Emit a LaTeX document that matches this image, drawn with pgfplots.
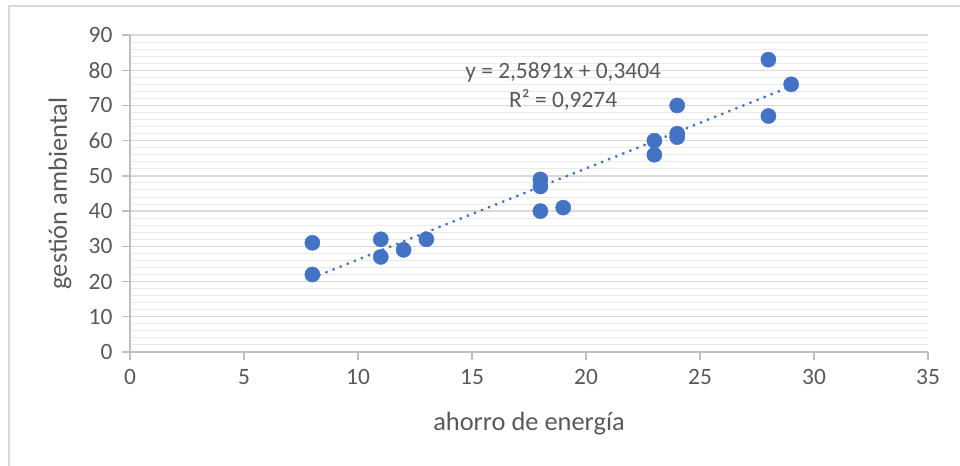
\documentclass[border=0pt]{standalone}
\usepackage{pgfplots}
\pgfplotsset{compat=1.18}
\usepackage{fontspec}
\setmainfont{Carlito}

\definecolor{xlblue}{HTML}{4472C4}
\definecolor{txtgray}{HTML}{595959}
\definecolor{axgray}{HTML}{BFBFBF}
\definecolor{majgray}{HTML}{D9D9D9}
\definecolor{mingray}{HTML}{EAEAEA}

\begin{document}
\begin{tikzpicture}
    \useasboundingbox (0,0) rectangle (960bp,466bp);
    % chart frame (only left and top edges are inside the picture)
    \draw[majgray, line width=1.3bp] (9bp,-5bp) -- (9bp,460bp) -- (965bp,460bp);

    \begin{axis}[
        scale only axis,
        width=798bp, height=317bp,
        at={(130bp,114bp)}, anchor=south west,
        xmin=0, xmax=35,
        ymin=0, ymax=90,
        xtick={0,5,...,35},
        ytick={0,10,...,90},
        minor y tick num=4,
        axis x line=bottom,
        axis y line=left,
        axis line style={-, axgray, line width=1.3bp},
        tick align=outside,
        major tick length=8bp,
        minor tick length=0pt,
        tick style={axgray, line width=1.3bp},
        ymajorgrids=true,
        yminorgrids=true,
        major grid style={majgray, line width=1.3bp},
        minor grid style={mingray, line width=1bp},
        /pgf/number format/assume math mode=true,
        ticklabel style={font=\fontsize{23.5}{27}\selectfont, text=txtgray},
        xticklabel style={yshift=-6bp},
        yticklabel style={xshift=-6bp},
        xlabel={ahorro de energía},
        ylabel={gestión ambiental},
        label style={font=\fontsize{26.5}{30}\selectfont, text=txtgray},
        xlabel style={at={(axis description cs:0.5,-0.227)}, anchor=center},
        ylabel style={at={(axis description cs:-0.0877,0.5)}, anchor=center},
        clip=false
    ]
    % data points
    \addplot[only marks, mark=*, mark size=7.6bp,
        mark options={fill=xlblue, draw=xlblue}]
        coordinates {
            (8,31)(8,22)(11,32)(11,27)(12,29)(13,32)
            (18,49)(18,47)(18,40)(19,41)
            (23,60)(23,56)(24,70)(24,61)(24,62)
            (28,83)(28,67)(29,76)
        };
    % linear trendline (Excel): y = 2,5891x + 0,3404
    \addplot[xlblue, line width=3.2bp, line cap=round,
        dash pattern=on 0.01bp off 7.6bp]
        coordinates {(8,21.053)(29,75.424)};

    \node[text=txtgray, font=\fontsize{23.5}{27}\selectfont]
        at (axis cs:19,79.5) {y = 2,5891x + 0,3404};
    \node[text=txtgray, font=\fontsize{23.5}{27}\selectfont]
        at (axis cs:19,71.6) {R² = 0,9274};
    \end{axis}
\end{tikzpicture}
\end{document}
